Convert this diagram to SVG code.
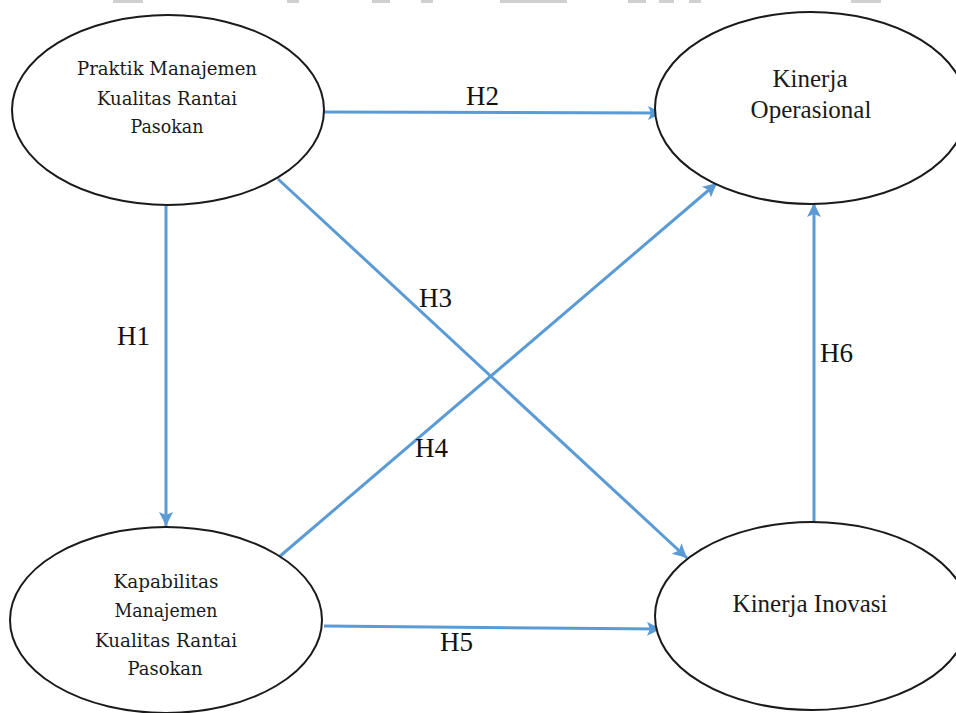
<svg xmlns="http://www.w3.org/2000/svg" width="956" height="713" viewBox="0 0 956 713">
  <style>
    .node { fill: #ffffff; stroke: #1a1a1a; stroke-width: 2; }
    .slab { font-family: "DejaVu Serif", "Liberation Serif", serif; font-size: 19px; fill: #1a1a1a; text-anchor: middle; }
    .times { font-family: "Liberation Serif", "Times New Roman", serif; font-size: 25px; fill: #1a1a1a; text-anchor: middle; }
    .lbl { font-family: "Liberation Serif", "Times New Roman", serif; font-size: 27px; fill: #111111; }
    .edge { stroke: #5B9BD5; stroke-width: 3; fill: none; marker-end: url(#arr); }
    .art { fill: #d0d0d0; }
  </style>
  <defs>
    <marker id="arr" markerUnits="userSpaceOnUse" markerWidth="16" markerHeight="14" refX="14" refY="7" orient="auto">
      <path d="M0,0 L14,7 L0,14 L3,7 Z" fill="#5B9BD5"/>
    </marker>
  </defs>
  <rect width="956" height="713" fill="#ffffff"/>
  <g id="artifacts">
    <rect class="art" x="113" y="0" width="30" height="3"/>
    <rect class="art" x="287" y="0" width="12" height="3"/>
    <rect class="art" x="372" y="0" width="18" height="3"/>
    <rect class="art" x="421" y="0" width="12" height="3"/>
    <rect class="art" x="500" y="0" width="67" height="3"/>
    <rect class="art" x="628" y="0" width="18" height="3"/>
    <rect class="art" x="659" y="0" width="15" height="3"/>
    <rect class="art" x="689" y="0" width="12" height="3"/>
    <rect class="art" x="851" y="0" width="30" height="3"/>
  </g>
  <g id="connectors">
    <line id="e-h1" class="edge" x1="166" y1="206" x2="166" y2="526"/>
    <line id="e-h2" class="edge" x1="323" y1="112" x2="662" y2="113"/>
    <line id="e-h3" class="edge" x1="278" y1="179" x2="687" y2="558"/>
    <line id="e-h4" class="edge" x1="279" y1="557" x2="717" y2="183"/>
    <line id="e-h5" class="edge" x1="324" y1="626" x2="661" y2="629"/>
    <line id="e-h6" class="edge" x1="814" y1="522" x2="814" y2="203"/>
    <text class="lbl" x="117" y="345">H1</text>
    <text class="lbl" x="466" y="105">H2</text>
    <text class="lbl" x="419" y="307">H3</text>
    <text class="lbl" x="415" y="457">H4</text>
    <text class="lbl" x="440" y="651">H5</text>
    <text class="lbl" x="820" y="362">H6</text>
  </g>
  <g id="node-praktik">
    <ellipse class="node" cx="168" cy="110" rx="156" ry="95"/>
    <text class="slab" x="167" y="75" textLength="180" lengthAdjust="spacingAndGlyphs">Praktik Manajemen</text>
    <text class="slab" x="167" y="105" textLength="140" lengthAdjust="spacingAndGlyphs">Kualitas Rantai</text>
    <text class="slab" x="167" y="133" textLength="73" lengthAdjust="spacingAndGlyphs">Pasokan</text>
  </g>
  <g id="node-operasional">
    <ellipse class="node" cx="811" cy="108" rx="156" ry="96"/>
    <text class="times" x="810" y="87">Kinerja</text>
    <text class="times" x="811" y="118">Operasional</text>
  </g>
  <g id="node-kapabilitas">
    <ellipse class="node" cx="166" cy="620" rx="156" ry="93"/>
    <text class="slab" x="166" y="588" textLength="105" lengthAdjust="spacingAndGlyphs">Kapabilitas</text>
    <text class="slab" x="166" y="617" textLength="103" lengthAdjust="spacingAndGlyphs">Manajemen</text>
    <text class="slab" x="166" y="647" textLength="142" lengthAdjust="spacingAndGlyphs">Kualitas Rantai</text>
    <text class="slab" x="165" y="675" textLength="75" lengthAdjust="spacingAndGlyphs">Pasokan</text>
  </g>
  <g id="node-inovasi">
    <ellipse class="node" cx="812" cy="616" rx="157" ry="94"/>
    <text class="times" x="810" y="612">Kinerja Inovasi</text>
  </g>
</svg>
